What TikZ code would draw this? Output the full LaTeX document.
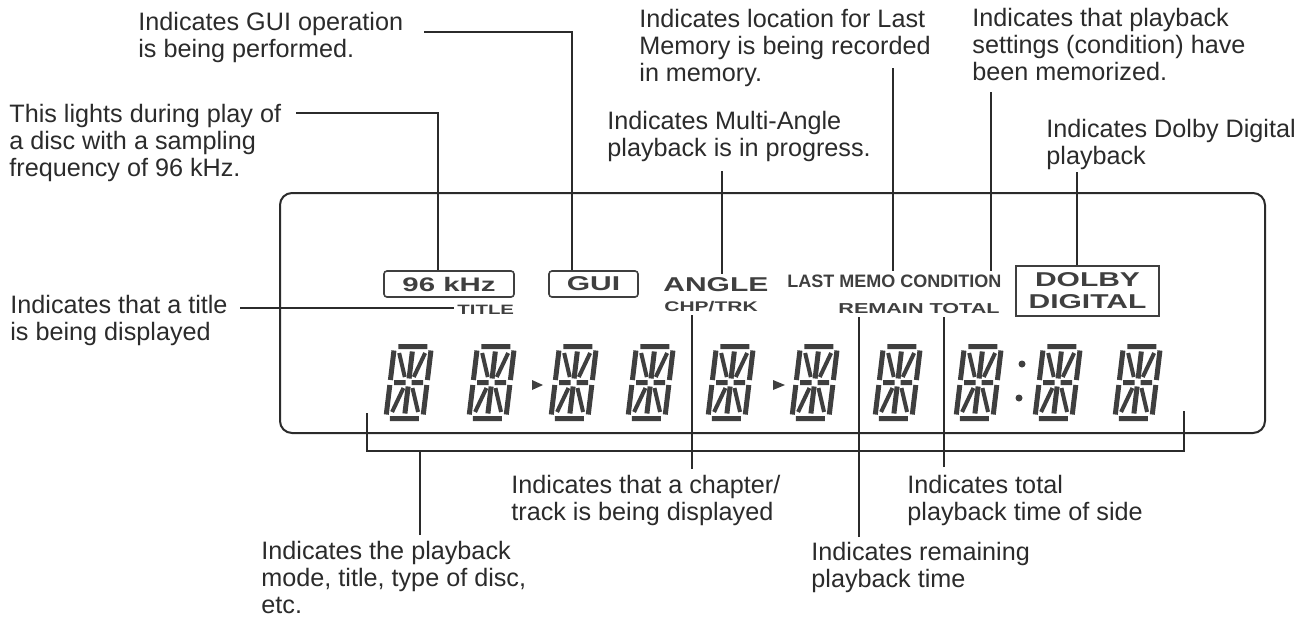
\documentclass[tikz,border=0pt]{standalone}
\usepackage{fontspec}
\setmainfont{Liberation Sans}
\newfontfamily\lcdwide{Liberation Sans}[FakeStretch=1.5]
\usepackage{tikz}
\usepackage{xcolor}
\definecolor{inkgray}{HTML}{2B2B2B}
\definecolor{seggray}{HTML}{3F3F3F}

\tikzset{
  note/.style={anchor=base west, align=left, inner sep=0pt, text=inkgray,
    font=\fontsize{12.6}{13.5}\selectfont},
  lead/.style={draw=inkgray, line width=0.6pt},
  lcdbox/.style={draw=seggray, line width=0.8pt, rounded corners=1.5pt, inner sep=0pt, text=seggray},
  lcdtag/.style={inner sep=1.5pt, text=seggray},
  lcdseg/.style={draw=seggray, line width=2.5pt},
  lcddiag/.style={draw=seggray, line width=2pt}
}

% one 14-segment digit, #1 = left end of its bottom bar
\newcommand{\lcddigit}[1]{%
  \begin{scope}[shift={(#1,421)}, xslant=0.12]
    \draw[lcdseg] (6.5,-74.5) -- (35.5,-74.5) (6.5,-2.5) -- (35.5,-2.5)
      (2.5,-70.5) -- (2.5,-41) (2.5,-36) -- (2.5,-6.5)
      (39.5,-70.5) -- (39.5,-41) (39.5,-36) -- (39.5,-6.5)
      (6.5,-38.5) -- (18,-38.5) (24,-38.5) -- (35.5,-38.5)
      (21,-69.5) -- (21,-42.5) (21,-34.5) -- (21,-7.5);
    \draw[lcddiag] (8,-68) -- (16.5,-44) (34,-68) -- (25.5,-44)
      (8,-9) -- (16.5,-33) (34,-9) -- (25.5,-33);
  \end{scope}}

\begin{document}
\begin{tikzpicture}[x=0.5pt, y=-0.5pt]
    \fill[white] (0,0) rectangle (1313,617);
    \useasboundingbox (0,0) rectangle (1313,617);
    \draw[draw=inkgray, line width=1pt, rounded corners=6pt] (280,193) rectangle (1265,433);

    \foreach \dx in {383,466,548,625,705,789,872,953,1032,1112} {\lcddigit{\dx}}
    \fill[seggray] (532,380) -- (543,385) -- (532,390) -- cycle;
    \fill[seggray] (773,380) -- (785,385) -- (773,390) -- cycle;
    \fill[seggray] (1022,364) circle[radius=3.5];
    \fill[seggray] (1019,398) circle[radius=3.5];

    \node[lcdbox, minimum width=65pt, minimum height=13pt,
      font=\lcdwide\bfseries\fontsize{9.8}{10}\selectfont] (khz) at (449,284) {96 kHz};
    \node[lcdbox, minimum width=44.5pt, minimum height=13pt,
      font=\lcdwide\bfseries\fontsize{10}{10}\selectfont] (gui) at (593.5,284) {GUI};
    \node[lcdtag, anchor=base west, font=\lcdwide\bfseries\fontsize{6.8}{7}\selectfont] (title) at (454,314) {TITLE};
    \node[lcdtag, anchor=base west, font=\lcdwide\bfseries\fontsize{10}{10}\selectfont] (angle) at (660,291) {ANGLE};
    \node[lcdtag, anchor=base west, font=\lcdwide\bfseries\fontsize{7}{7}\selectfont] (chp) at (661,311) {CHP/TRK};
    \node[lcdtag, anchor=base west, font=\bfseries\fontsize{9}{9}\selectfont] (memo) at (784,287) {LAST MEMO CONDITION};
    \node[lcdtag, anchor=base west, font=\lcdwide\bfseries\fontsize{7.2}{7}\selectfont] (remain) at (835,313) {REMAIN TOTAL};
    \node[lcdbox, rounded corners=0pt, minimum width=71.5pt, minimum height=25pt, align=center,
      font=\lcdwide\bfseries\fontsize{10}{11}\selectfont] (dolby) at (1087.5,291) {DOLBY\\DIGITAL};

    % notes are placed by the baseline of their last line
    \node[note] (tGUI) at (138,57) {Indicates GUI operation\\is being performed.};
    \node[note] (tKHZ) at (9,176) {This lights during play of\\a disc with a sampling\\frequency of 96 kHz.};
    \node[note] (tTITLE) at (10,340) {Indicates that a title\\is being displayed};
    \node[note] (tANGLE) at (607,156) {Indicates Multi-Angle\\playback is in progress.};
    \node[note] (tLAST) at (639,81) {Indicates location for Last\\Memory is being recorded\\in memory.};
    \node[note] (tCOND) at (972,80) {Indicates that playback\\settings (condition) have\\been memorized.};
    \node[note] (tDOLBY) at (1046,164) {Indicates Dolby Digital\\playback};
    \node[note] (tCHP) at (511,520) {Indicates that a chapter/\\track is being displayed};
    \node[note] (tMODE) at (261,613) {Indicates the playback\\mode, title, type of disc,\\etc.};
    \node[note] (tTOTAL) at (907,520) {Indicates total\\playback time of side};
    \node[note] (tREMAIN) at (811,587) {Indicates remaining\\playback time};

    \coordinate (gA) at (424,32);
    \coordinate (gB) at (572,32);
    \draw[lead] (gA) -- (gB) -- (gB |- gui.north);
    \coordinate (kA) at (296,113);
    \coordinate (kB) at (438,113);
    \draw[lead] (kA) -- (kB) -- (kB |- khz.north);
    \coordinate (tiA) at (240,308);
    \draw[lead] (tiA) -- (tiA -| title.west);
    \coordinate (aA) at (722,171);
    \draw[lead] (aA) -- (aA |- angle.north);
    \coordinate (lA) at (893,68);
    \draw[lead] (lA) -- (lA |- memo.north);
    \coordinate (cA) at (991,92);
    \draw[lead] (cA) -- (cA |- memo.north);
    \coordinate (dA) at (1077,172);
    \draw[lead] (dA) -- (dA |- dolby.north);
    \coordinate (hA) at (692,469);
    \draw[lead] (hA) -- (hA |- chp.south);
    \coordinate (rA) at (859,537);
    \draw[lead] (rA) -- (rA |- remain.south);
    \coordinate (oA) at (944,467);
    \draw[lead] (oA) -- (oA |- remain.south);

    \coordinate (bL) at (367,413);
    \coordinate (bR) at (1184,411);
    \coordinate (bLd) at (367,451);
    \draw[lead] (bL) -- (bLd) -| (bR);
    \coordinate (mA) at (420,535);
    \draw[lead] (mA) -- (mA |- bLd);
\end{tikzpicture}
\end{document}
